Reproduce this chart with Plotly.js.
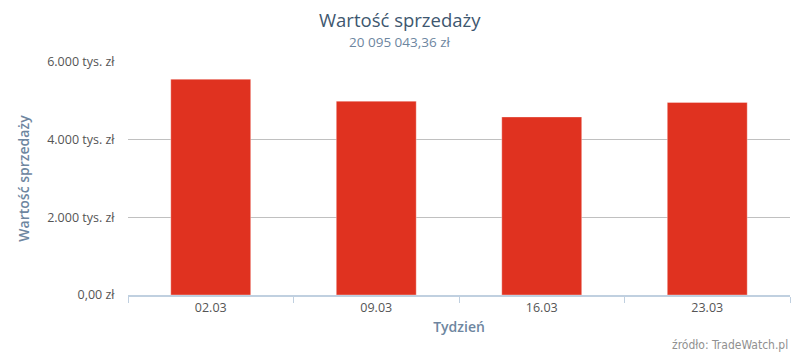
<!DOCTYPE html>
<html><head><meta charset="utf-8">
<script src="https://cdn.plot.ly/plotly-3.0.1.min.js"></script>
<style>html,body{margin:0;padding:0;background:#fff}#chart{width:800px;height:356px}</style>
</head><body><div id="chart"></div>
<script>
const weeks = ["02.03", "09.03", "16.03", "23.03"];
const salesValue = [5558210.12, 4991830.55, 4585120.40, 4959882.29];
const yTickVals = [0, 2000000, 4000000, 6000000];
const yTickText = ["0,00 zł", "2.000 tys. zł", "4.000 tys. zł", "6.000 tys. zł"];
const titleText = "Wartość sprzedaży";
const subtitleText = "20 095 043,36 zł";
const xTitle = "Tydzień";
const yTitle = "Wartość sprzedaży";
const creditText = "źródło: TradeWatch.pl";

const W = 800, H = 356;
const margin = {l: 128, r: 10, t: 62, b: 61};
const plotW = W - margin.l - margin.r;
const centerX = (W / 2 - margin.l) / plotW; // page centre in paper units

const narrow = "'Liberation Sans Narrow', 'DejaVu Sans Condensed', 'Open Sans', sans-serif";
const mainFont = "'Open Sans', 'DejaVu Sans', sans-serif";

const trace = {
  type: "bar",
  x: weeks,
  y: salesValue,
  marker: {color: "#e03220", line: {color: "rgba(255,255,255,0.35)", width: 1}},
  hoverinfo: "x+y"
};

const layout = {
  width: W, height: H,
  margin: margin,
  paper_bgcolor: "#fff", plot_bgcolor: "#fff",
  showlegend: false,
  bargap: 0.517,
  xaxis: {
    type: "category",
    showline: true, linecolor: "#c0d0e0", linewidth: 2,
    ticks: "outside", tickson: "boundaries", ticklen: 6, tickcolor: "#c0d0e0", tickwidth: 1,
    tickfont: {family: mainFont, size: 12.5, color: "#555"},
    showgrid: false, zeroline: false,
    title: {text: xTitle, font: {family: mainFont, size: 14, color: "#6e86a0", weight: 600}, standoff: 7}
  },
  yaxis: {
    range: [0, 6000000],
    tickvals: yTickVals, ticktext: yTickText,
    tickfont: {family: mainFont, size: 12.5, color: "#555"},
    showgrid: true, gridcolor: "#c0c0c0", gridwidth: 1,
    zeroline: false, showline: false,
    ticks: "outside", ticklen: 10, tickcolor: "rgba(0,0,0,0)",
    title: {text: yTitle, font: {family: mainFont, size: 14, color: "#6e86a0", weight: 600}, standoff: 14}
  },
  annotations: [
    {text: titleText, xref: "paper", yref: "paper", x: centerX, xanchor: "center", y: 1, yanchor: "bottom",
     showarrow: false, font: {family: mainFont, size: 18.5, color: "#3e576f"}, yshift: 28},
    {text: subtitleText, xref: "paper", yref: "paper", x: centerX, xanchor: "center", y: 1, yanchor: "bottom",
     showarrow: false, font: {family: mainFont, size: 13.5, color: "#6d869f"}, yshift: 9},
    {text: creditText, xref: "paper", yref: "paper", x: 1, xanchor: "right", y: 0, yanchor: "top",
     showarrow: false, font: {family: narrow, size: 12, color: "#909090"}, yshift: -41}
  ]
};

Plotly.newPlot("chart", [trace], layout, {displayModeBar: false, staticPlot: true});
</script></body></html>
